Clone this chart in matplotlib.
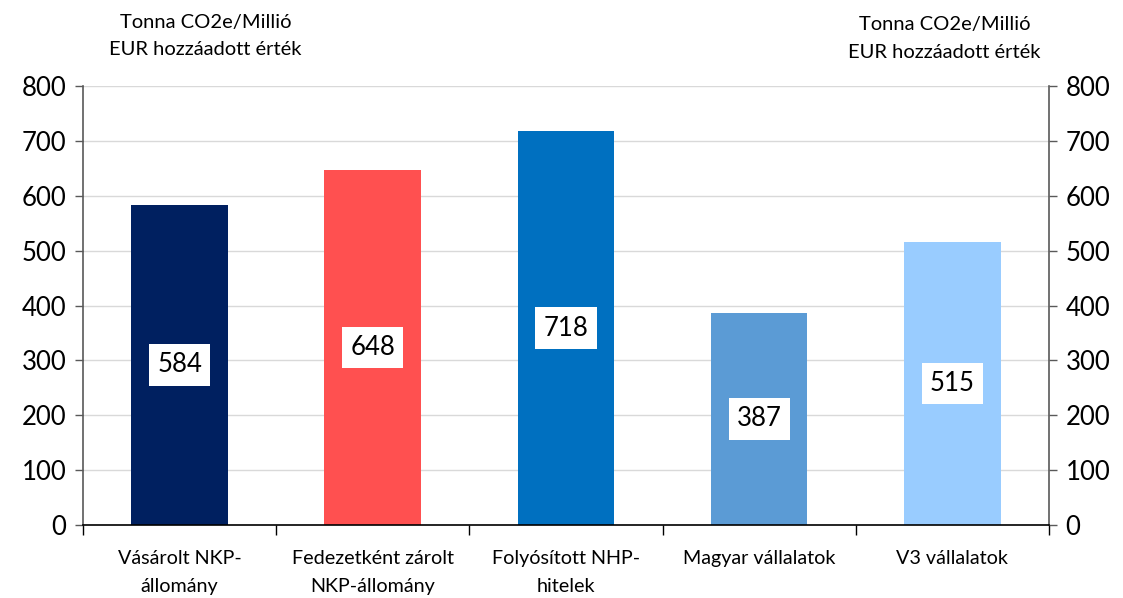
import numpy as np
import matplotlib
matplotlib.use("Agg")
import matplotlib.pyplot as plt

plt.rcParams['font.family'] = ['Lato', 'DejaVu Sans']

# data
categories = ['Vásárolt NKP-\nállomány', 'Fedezetként zárolt\nNKP-állomány',
              'Folyósított NHP-\nhitelek', 'Magyar vállalatok', 'V3 vállalatok']
values = [584, 648, 718, 387, 515]
colors = ['#002060', '#FF5050', '#0070C0', '#5B9BD5', '#99CCFF']
yticks = [0, 100, 200, 300, 400, 500, 600, 700, 800]
unit = 'Tonna CO2e/Millió\nEUR hozzáadott érték'

fig = plt.figure(figsize=(11.23, 5.98), dpi=100)
ax = fig.add_axes([0.0739, 0.122, 0.8602, 0.734])

x = np.arange(len(categories))
bars = ax.bar(x, values, width=0.5, color=colors, zorder=2)

for xi, v in zip(x, values):
    ax.text(xi, v / 2, str(v), ha='center', va='center', fontsize=18.5,
            bbox=dict(facecolor='white', edgecolor='none', pad=6), zorder=3)

ax.set_xlim(-0.5, len(categories) - 0.5)
ax.set_ylim(0, 800)
ax.set_yticks(yticks)
ax.tick_params(axis='y', labelsize=18.5, length=6, width=1, color='#595959',
               left=True, right=True, labelleft=True, labelright=True, pad=6)
ax.yaxis.grid(True, color='#d9d9d9', linewidth=1, zorder=0)
ax.set_axisbelow(True)

ax.set_xticks(x)
ax.set_xticklabels(categories, fontsize=14.2, linespacing=1.75, va='top')
ax.tick_params(axis='x', which='major', length=0, pad=18)
ax.set_xticks(np.arange(-0.5, len(categories)), minor=True)
ax.tick_params(axis='x', which='minor', length=7, width=1, color='black')

ax.spines['top'].set_visible(False)
ax.spines['left'].set_color('#595959')
ax.spines['right'].set_color('#595959')
ax.spines['bottom'].set_color('black')
ax.spines['left'].set_linewidth(1.2)
ax.spines['right'].set_linewidth(1.2)
ax.spines['bottom'].set_linewidth(1.2)

fig.text(0.183, 0.94, unit, ha='center', va='center', fontsize=14.5, linespacing=1.75)
fig.text(0.841, 0.936, unit, ha='center', va='center', fontsize=14.5, linespacing=1.75)

fig.savefig('out.png', dpi=100)
